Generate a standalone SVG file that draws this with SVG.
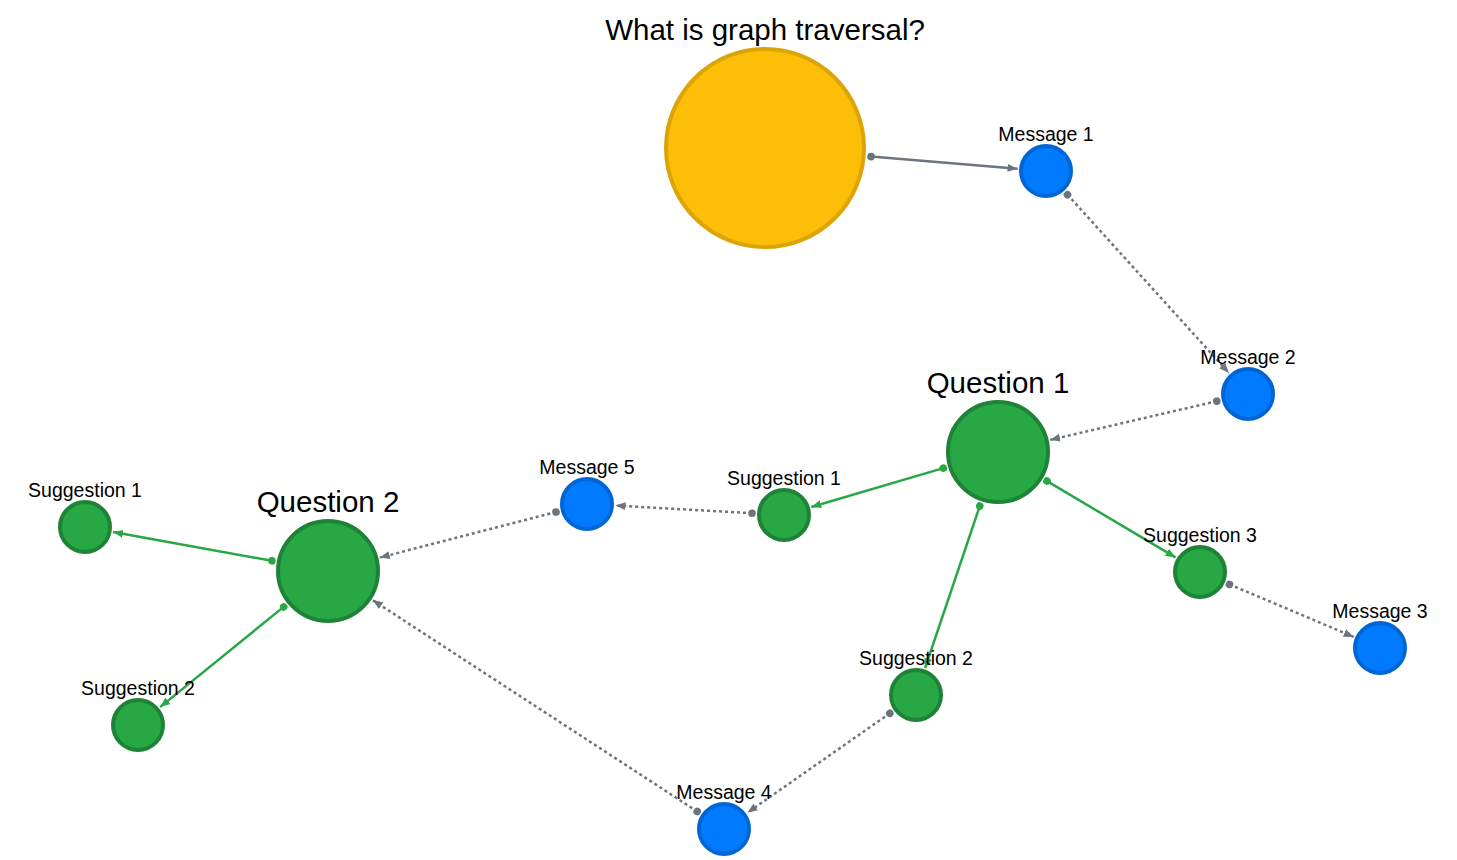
<svg xmlns="http://www.w3.org/2000/svg" width="1457" height="860" viewBox="0 0 1457 860">
<defs>
<style>
text{font-family:"Liberation Sans",Arial,sans-serif;fill:#000;text-anchor:middle}
.lbl{font-size:19.5px}
.big{font-size:29.5px}
.msg{fill:#007bff;stroke:#0066d6;stroke-width:4}
.grn{fill:#28a745;stroke:#1e8336;stroke-width:4}
.root{fill:#fdbe08;stroke:#dca407;stroke-width:4}
.e{fill:none;stroke-width:2.5}
.g{stroke:#6c757d;marker-start:url(#dg);marker-end:url(#ag)}
.d{stroke-dasharray:3 3}
.s{stroke:#28a745;marker-start:url(#dn);marker-end:url(#an)}
</style>
<marker id="ag" markerUnits="userSpaceOnUse" markerWidth="12" markerHeight="12" refX="10" refY="5" orient="auto"><path d="M0,1 L10,5 L0,9 Z" fill="#6c757d"/></marker>
<marker id="an" markerUnits="userSpaceOnUse" markerWidth="12" markerHeight="12" refX="10" refY="5" orient="auto"><path d="M0,1 L10,5 L0,9 Z" fill="#28a745"/></marker>
<marker id="dg" markerUnits="userSpaceOnUse" markerWidth="10" markerHeight="10" refX="5" refY="5" orient="auto"><circle cx="5" cy="5" r="3.8" fill="#6c757d"/></marker>
<marker id="dn" markerUnits="userSpaceOnUse" markerWidth="10" markerHeight="10" refX="5" refY="5" orient="auto"><circle cx="5" cy="5" r="3.8" fill="#28a745"/></marker>
</defs>
<rect width="1457" height="860" fill="#fff"/>
<g id="connectors">
<line class="e g" x1="871" y1="156.6" x2="1017.6" y2="168.7"/>
<line class="e g d" x1="1067.5" y1="194.7" x2="1228.9" y2="372.9"/>
<line class="e g d" x1="1216.8" y1="401.2" x2="1050.1" y2="439.9"/>
<line class="e s" x1="943.3" y1="468.1" x2="811.3" y2="507"/>
<line class="e s" x1="1047" y1="481.1" x2="1175.5" y2="557.4"/>
<line class="e s" x1="979.8" y1="506" x2="925.1" y2="668"/>
<line class="e g d" x1="1229.5" y1="584.4" x2="1353.7" y2="636.9"/>
<line class="e g d" x1="752" y1="513.2" x2="615.5" y2="505.6"/>
<line class="e g d" x1="556" y1="512" x2="379.8" y2="557.6"/>
<line class="e s" x1="271.9" y1="560.8" x2="113" y2="532.1"/>
<line class="e s" x1="283.7" y1="606.9" x2="160.1" y2="707.1"/>
<line class="e g d" x1="889.8" y1="713.3" x2="747.4" y2="812.7"/>
<line class="e g d" x1="697.2" y1="811.5" x2="372.8" y2="600.2"/>
</g>
<g id="root"><circle class="root" cx="765" cy="148" r="99"/><text class="big" x="765" y="40">What is graph traversal?</text></g>
<g id="message1"><circle class="msg" cx="1046" cy="171" r="25"/><text class="lbl" x="1046" y="141">Message 1</text></g>
<g id="message2"><circle class="msg" cx="1248" cy="394" r="25"/><text class="lbl" x="1248" y="364">Message 2</text></g>
<g id="question1"><circle class="grn" cx="998" cy="452" r="50"/><text class="big" x="998" y="393">Question 1</text></g>
<g id="q1-suggestion1"><circle class="grn" cx="784" cy="515" r="25"/><text class="lbl" x="784" y="485">Suggestion 1</text></g>
<g id="q1-suggestion2"><circle class="grn" cx="916" cy="695" r="25"/><text class="lbl" x="916" y="665">Suggestion 2</text></g>
<g id="q1-suggestion3"><circle class="grn" cx="1200" cy="572" r="25"/><text class="lbl" x="1200" y="542">Suggestion 3</text></g>
<g id="message3"><circle class="msg" cx="1380" cy="648" r="25"/><text class="lbl" x="1380" y="618">Message 3</text></g>
<g id="message4"><circle class="msg" cx="724" cy="829" r="25"/><text class="lbl" x="724" y="799">Message 4</text></g>
<g id="message5"><circle class="msg" cx="587" cy="504" r="25"/><text class="lbl" x="587" y="474">Message 5</text></g>
<g id="question2"><circle class="grn" cx="328" cy="571" r="50"/><text class="big" x="328" y="512">Question 2</text></g>
<g id="q2-suggestion1"><circle class="grn" cx="85" cy="527" r="25"/><text class="lbl" x="85" y="497">Suggestion 1</text></g>
<g id="q2-suggestion2"><circle class="grn" cx="138" cy="725" r="25"/><text class="lbl" x="138" y="695">Suggestion 2</text></g>
</svg>
